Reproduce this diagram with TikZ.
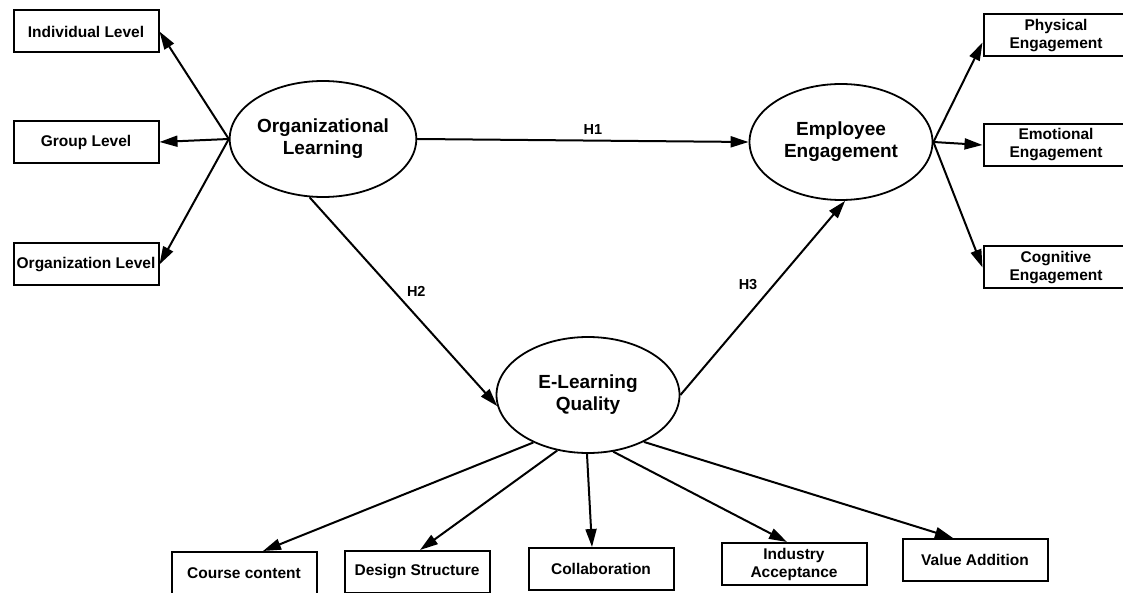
\documentclass[tikz,border=0pt]{standalone}
\usepackage{fontspec}
\setmainfont{Liberation Sans}
\usetikzlibrary{
  arrows.meta,
  positioning,
  shapes.geometric
}
\tikzset{
  construct/.style={
    draw,
    ellipse,
    line width=1.8pt,
    inner sep=0pt,
    minimum width=183pt,
    minimum height=116pt,
    align=center,
    font=\fontsize{19}{22}\selectfont\bfseries
  },
  indicator/.style={
    draw,
    rectangle,
    line width=2pt,
    inner sep=1pt,
    minimum width=145pt,
    minimum height=42pt,
    align=center,
    font=\fontsize{15.5}{18}\selectfont\bfseries
  },
  arr/.style={-{Triangle[length=18pt, width=11pt]}, line width=2pt},
  hyp/.style={inner sep=1pt, font=\fontsize{14.5}{16}\selectfont\bfseries}
}

\begin{document}
\begin{tikzpicture}[x=1pt, y=-1pt]
\useasboundingbox (0,0) rectangle (1123,593);

% --- Constructs ---
\node[construct] (orglearn) at (323,139) {Organizational\\Learning};
\node[construct] (engage) at (841,142) {Employee\\Engagement};
\node[construct] (elq) at (588,395) {E-Learning\\Quality};

% --- Organizational learning levels ---
\node[indicator] (indiv) at (86,31.5) {Individual Level};
\node[indicator] (group) at (86,142) {Group Level};
\node[indicator] (orglvl) at (86,264.5) {Organization Level};

% --- Engagement dimensions ---
\node[indicator] (phys) at (1056,35.5) {Physical\\Engagement};
\node[indicator] (emot) at (1056,145) {Emotional\\Engagement};
\node[indicator] (cogn) at (1056,267.5) {Cognitive\\Engagement};

% --- E-learning quality dimensions ---
\node[indicator] (course) at (244,573) {Course content};
\node[indicator] (design) at (417,572) {Design Structure};
\node[indicator] (collab) at (601,569) {Collaboration};
\node[indicator] (industry) at (794,564) {Industry\\Acceptance};
\node[indicator] (value) at (975,560) {Value Addition};

% --- Hypotheses ---
\draw[arr] (orglearn.east) -- (engage.west)
  node[hyp, pos=0.53, above=4pt] {H1};
\draw[arr] (orglearn.257) -- (elq.187)
  node[hyp, pos=0.45, right=11pt] {H2};
\draw[arr] (elq.east) -- (engage.274)
  node[hyp, pos=0.57, left=15pt] {H3};

% --- Measurement arrows ---
\draw[arr] (orglearn.west) -- (indiv.east);
\draw[arr] (orglearn.west) -- (group.east);
\draw[arr] (orglearn.west) -- (orglvl.east);

\draw[arr] (engage.east) -- ([yshift=-7pt]phys.west);
\draw[arr] (engage.east) -- (emot.west);
\draw[arr] (engage.east) -- (cogn.west);

\draw[arr] (elq.221) -- ([xshift=19pt]course.north);
\draw[arr] (elq.241) -- ([xshift=3pt]design.north);
\draw[arr] (elq.269) -- ([xshift=-9pt]collab.north);
\draw[arr] (elq.294) -- ([xshift=-7pt]industry.north);
\draw[arr] (elq.320) -- ([xshift=-22pt]value.north);

\end{tikzpicture}
\end{document}
